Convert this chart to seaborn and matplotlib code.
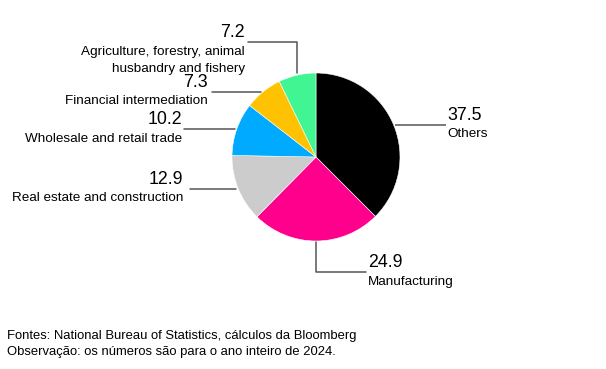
import numpy as np
import matplotlib
matplotlib.use("Agg")
import matplotlib.pyplot as plt
import seaborn as sns

sns.set_theme(style="white")
plt.rcParams['font.family'] = ['Liberation Sans', 'DejaVu Sans']

# Data
categories = ["Others", "Manufacturing", "Real estate and construction",
              "Wholesale and retail trade", "Financial intermediation",
              "Agriculture, forestry, animal\nhusbandry and fishery"]
values = [37.5, 24.9, 12.9, 10.2, 7.3, 7.2]
value_labels = ["37.5", "24.9", "12.9", "10.2", "7.3", "7.2"]
colors = ["#000000", "#FF008C", "#CCCCCC", "#00AAFF", "#FFC200", "#40F592"]

W, H = 606, 369
fig = plt.figure(figsize=(W / 100, H / 100), dpi=100)
ax = fig.add_axes([0, 0, 1, 1])

cx, cy, r = 316, H - 157, 84
ax.pie(values, colors=colors, startangle=90, counterclock=False,
       center=(cx, cy), radius=r, frame=True,
       wedgeprops=dict(linewidth=0.4, edgecolor="white"))
ax.set_xlim(0, W)
ax.set_ylim(0, H)
ax.set_aspect("equal")
ax.set_axis_off()

# anchor points at wedge mid-angles (clockwise from top)
total = sum(values)
cum = np.cumsum([0] + values[:-1])
mids = [(c + v / 2) / total * 2 * np.pi for c, v in zip(cum, values)]
anchors = [(cx + r * np.sin(t), cy + r * np.cos(t)) for t in mids]

lc = "#555555"
lw = 1.1
num_fs = 12.8
lab_fs = 9.7
gap = 3.5

def ypx(y):
    return H - y

# Others: horizontal right
ax_, ay_ = anchors[0]
ax.plot([ax_ + 1, 446], [ay_, ay_], color=lc, lw=lw, solid_capstyle="butt")
ax.text(447, ay_ + 1, value_labels[0], fontsize=num_fs, ha="left", va="bottom", color="black")
ax.text(447, ay_ - gap, categories[0], fontsize=lab_fs, ha="left", va="top", color="black")

# Manufacturing: down then right
ax_, ay_ = anchors[1]
ax.plot([ax_, ax_, 366], [ay_ - 1, ypx(272), ypx(272)], color=lc, lw=lw)
ax.text(368, ypx(272) + 1, value_labels[1], fontsize=num_fs, ha="left", va="bottom", color="black")
ax.text(368, ypx(272) - gap, categories[1], fontsize=lab_fs, ha="left", va="top", color="black")

# Left side labels: horizontal line to left
left_ends = {2: 190, 3: 184, 4: 212}
text_right = {2: 183, 3: 182, 4: 208}
for i in (2, 3, 4):
    ax_, ay_ = anchors[i]
    ax.plot([ax_ - 2, left_ends[i]], [ay_, ay_], color=lc, lw=lw)
    ax.text(text_right[i], ay_ + 1, value_labels[i], fontsize=num_fs, ha="right", va="bottom", color="black")
    ax.text(text_right[i], ay_ - gap, categories[i], fontsize=lab_fs, ha="right", va="top", color="black")

# Agriculture: up then left
ax_, ay_ = anchors[5]
ax.plot([ax_, ax_, 248], [ay_ + 2, ypx(42), ypx(42)], color=lc, lw=lw)
ax.text(245, ypx(42) + 1, value_labels[5], fontsize=num_fs, ha="right", va="bottom", color="black")
ax.text(245, ypx(42) - gap - 1, categories[5], fontsize=lab_fs, ha="right", va="top", color="black",
        linespacing=1.45)

fig.text(7 / W, 1 - 330.5 / H,
         "Fontes: National Bureau of Statistics, cálculos da Bloomberg\n"
         "Observação: os números são para o ano inteiro de 2024.",
         fontsize=9.4, ha="left", va="top", color="black", linespacing=1.35)

fig.savefig("out.png", dpi=100, facecolor="white")
